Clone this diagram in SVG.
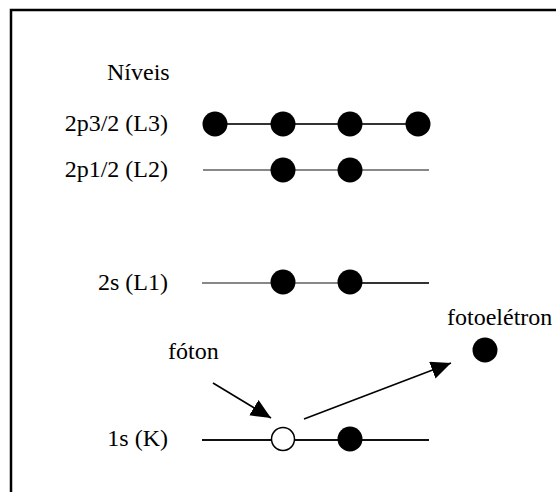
<svg xmlns="http://www.w3.org/2000/svg" width="556" height="492" viewBox="0 0 556 492">
  <style>
    .lbl { font-family: "Liberation Serif", "Times New Roman", serif; font-size: 24px; fill: #000; }
    .end { text-anchor: end; }
    .e { fill: #000; }
    .hole { fill: #fff; stroke: #000; stroke-width: 1.5; }
    .arrow { stroke: #000; stroke-width: 1.6; fill: none; marker-end: url(#head); }
  </style>
  <defs>
    <marker id="head" markerUnits="userSpaceOnUse" markerWidth="22" markerHeight="20" refX="20" refY="9" orient="auto">
      <path d="M0,0 L20,9 L0,18 Z" fill="#000"/>
    </marker>
  </defs>

  <rect width="556" height="492" fill="#fff"/>
  <!-- frame (open to the right and bottom) -->
  <rect x="11" y="10" width="620" height="600" fill="none" stroke="#000" stroke-width="2.5"/>

  <text class="lbl" x="107" y="80">Níveis</text>

  <!-- level lines -->
  <g id="levels">
    <line x1="215" y1="124" x2="417" y2="124" stroke="#333" stroke-width="2"/>
    <line x1="203" y1="170" x2="429" y2="170" stroke="#888" stroke-width="2"/>
    <line x1="202" y1="283" x2="350" y2="283" stroke="#888" stroke-width="2"/>
    <line x1="350" y1="283" x2="429" y2="283" stroke="#333" stroke-width="2"/>
    <line x1="202" y1="440" x2="429" y2="440" stroke="#111" stroke-width="2"/>
  </g>

  <g id="L3">
    <text class="lbl end" x="168" y="131">2p3/2 (L3)</text>
    <circle class="e" cx="215" cy="124" r="12.5"/>
    <circle class="e" cx="283" cy="124" r="12.5"/>
    <circle class="e" cx="350" cy="124" r="12.5"/>
    <circle class="e" cx="418" cy="124" r="12.5"/>
  </g>

  <g id="L2">
    <text class="lbl end" x="168" y="177">2p1/2 (L2)</text>
    <circle class="e" cx="283" cy="170" r="12.5"/>
    <circle class="e" cx="350" cy="170" r="12.5"/>
  </g>

  <g id="L1">
    <text class="lbl end" x="168" y="290">2s (L1)</text>
    <circle class="e" cx="283" cy="282" r="12.5"/>
    <circle class="e" cx="350" cy="282" r="12.5"/>
  </g>

  <g id="K">
    <text class="lbl end" x="168" y="446">1s (K)</text>
    <circle class="hole" cx="283" cy="439" r="11.5"/>
    <circle class="e" cx="350" cy="439" r="12.5"/>
  </g>

  <g id="photon">
    <text class="lbl" x="168" y="359">fóton</text>
  </g>

  <g id="photoelectron">
    <text class="lbl" x="447" y="325">fotoelétron</text>
    <circle class="e" cx="485" cy="350" r="12.5"/>
  </g>

  <g id="connectors">
    <line class="arrow" x1="213" y1="383" x2="271" y2="418"/>
    <line class="arrow" x1="304" y1="419" x2="451" y2="363"/>
  </g>
</svg>
